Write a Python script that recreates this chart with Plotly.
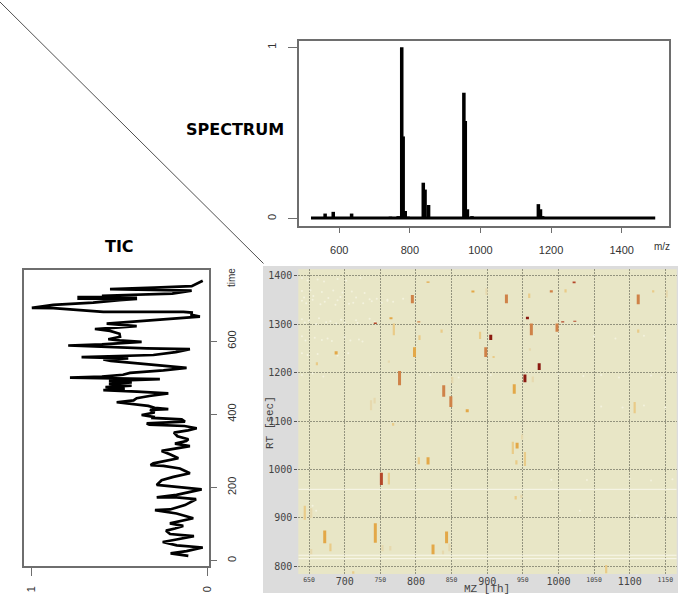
import plotly.graph_objects as go

W, H = 685, 601

# ---------- data ----------
spec_mz = [560, 583, 635, 654, 745, 767, 777, 781, 787, 795, 838, 843, 853, 865, 953, 957, 963, 976, 989, 1090, 1164, 1170, 1176]
spec_int = [.03, .04, .03, .007, .012, .015, 1.0, .48, .045, .012, .21, .17, .08, .01, .735, .57, .055, .015, .008, .006, .085, .055, .015]
spec_base_mz = [520, 1495]
spec_base_int = [.004, .004]
spec_ticks = [600, 800, 1000, 1200, 1400]

tic_time = [13, 20, 26, 36, 42, 51, 58, 67, 73, 82, 88, 95, 102, 116, 129, 138, 140, 152, 168, 173, 173, 180, 195, 200, 207, 220, 229, 239, 252, 259, 261, 266,
            280, 290, 300, 313, 320, 327, 332, 340, 350, 356, 362, 368, 372, 375, 380, 386, 390, 393, 398, 405, 412, 414, 418, 423, 428, 433, 438, 444, 450, 457,
            462, 466, 470, 474, 478, 483, 487, 491, 496, 500, 503, 508, 513, 520, 527, 535, 541, 546, 550, 553, 556, 562, 570, 578, 580, 584, 588, 591, 595, 598,
            602, 605, 612, 620, 628, 633, 641, 648, 653, 660, 667, 672, 678, 680, 680, 690, 691, 699, 705, 712, 715, 716, 718, 720, 722, 724, 726, 730, 738, 742, 746, 750, 765]
tic_value = [.108, .209, .118, .026, .174, .254, .175, .076, .212, .235, .184, .137, .213, .080, .175, .298, .212, .127, .064, .175, .288, .175, .032, .156, .288, .260, .193, .099, .156, .25, .323, .307,
             .165, .21, .26, .099, .184, .12, .108, .17, .19, .11, .06, .13, .33, .345, .127, .146, .31, .307, .374, .30, .326, .222, .30, .336, .42, .516, .42, .402, .33, .222,
             .40, .592, .47, .58, .431, .56, .43, .56, .27, .782, .60, .48, .44, .25, .118, .30, .45, .55, .592, .45, .716, .307, .18, .099, .345, .60, .792, .60, .50, .374,
             .50, .564, .497, .50, .554, .64, .402, .573, .421, .20, .042, .09, .089, .136, .592, .877, .999, .877, .65, .50, .40, .74, .40, .74, .42, .60, .40, .20, .089, .554, .30, .089, .026]
tic_time_ticks = [0, 200, 400, 600]
tic_value_ticks = [0, 1]

rt_ticks = [800, 900, 1000, 1100, 1200, 1300, 1400]
mz_major = [700, 800, 900, 1000, 1100]
mz_minor = [650, 750, 850, 950, 1050, 1150]

spot_mz = [795, 927, 1112, 959, 956.5, 962, 998, 1006, 1023, 905, 890, 898, 798, 769, 688, 805, 836, 743, 765, 804,
           973, 953, 777, 839, 849, 938, 872, 1107, 1112, 880, 990, 1022, 1010, 817, 1133, 1152, 899, 737, 742, 851, 964, 909, 960, 762, 661, 768,
           751.5, 762, 644, 653, 672, 680, 653, 743, 753, 764, 804, 817, 824, 843, 838, 847, 936, 942, 941, 953, 949, 940, 948, 1067, 712]
spot_rt_lo = [1343, 1343, 1341, 1354, 1310, 1277, 1284, 1303, 1305, 1267, 1269, 1232, 1232, 1277, 1237, 1267, 1282, 1300, 1310, 1303,
              1205, 1180, 1174, 1150, 1129, 1156, 1118, 1116, 1282, 1365, 1365, 1384, 1365, 1385, 1365, 1355, 1360, 1122, 1136, 1178, 1180, 1230, 1245, 1220, 1215, 1090,
              968, 969, 896, 900, 848, 831, 825, 849, 831, 833, 1011, 1010, 825, 848, 825, 831, 1032, 1043, 1010, 1007, 1062, 938, 941, 786, 785]
spot_rt_hi = [1360, 1361, 1361, 1363, 1315, 1301, 1301, 1306, 1307, 1278, 1284, 1252, 1252, 1301, 1244, 1277, 1289, 1303, 1314, 1306,
              1219, 1196, 1203, 1174, 1151, 1176, 1124, 1139, 1289, 1369, 1370, 1388, 1372, 1388, 1370, 1370, 1374, 1143, 1148, 1191, 1192, 1234, 1250, 1225, 1221, 1096,
              993, 993, 925, 920, 874, 847, 836, 889, 844, 842, 1025, 1025, 845, 872, 833, 847, 1057, 1055, 1019, 1036, 1072, 945, 948, 803, 790]
spot_level = [4, 4, 4, 2, 6, 4, 4, 5, 5, 6, 2, 4, 3, 2, 3, 2, 2, 5, 3, 4,
              6, 6, 4, 4, 4, 3, 3, 2, 2, 3, 4, 5, 2, 3, 2, 1, 1, 1, 1, 1, 1, 2, 1, 1, 2, 2,
              5, 2, 2, 1, 3, 2, 1, 3, 1, 1, 2, 3, 3, 3, 1, 1, 2, 3, 2, 2, 1, 2, 1, 2, 2]
level_colors = {1: "#e6d9ae", 2: "#e9cb88", 3: "#e3a848", 4: "#cf8248", 5: "#b4472a", 6: "#8a1a10"}

white_rt = [959, 823, 816]
speck_mz = [640, 648, 662, 671, 690, 702, 722, 640, 652, 668, 684, 697, 710, 728, 745, 760, 782, 640, 655, 672, 690, 712, 735, 760, 640, 650, 664, 680, 695, 716, 735,
            640, 658, 676, 700, 720, 640, 648, 662, 690, 705, 640, 655, 670, 820, 860, 905, 1000, 1035, 1060, 1085, 1130, 1145, 1060, 1090, 1120, 1150, 990, 1040, 1100, 1130, 1160, 1030, 1110, 1145, 655, 660, 1000, 1050, 1080, 1120, 1150,
            643, 646, 656, 666, 677, 687, 694, 706, 716, 726, 738, 752, 768, 644, 660, 674, 688, 700, 718, 742, 645, 668, 682, 708, 725]
speck_rt = [1395, 1390, 1392, 1388, 1393, 1390, 1395, 1368, 1370, 1366, 1369, 1365, 1367, 1364, 1352, 1350, 1352, 1348, 1350, 1346, 1349, 1344, 1351, 1348, 1310, 1307, 1312, 1306, 1309, 1308, 1311,
            1275, 1272, 1270, 1273, 1268, 1240, 1236, 1238, 1235, 1240, 1195, 1198, 1192, 1195, 1190, 1195, 1197, 1193, 1195, 1190, 1194, 1190, 1130, 1128, 1132, 1128, 979, 978, 981, 977, 980, 915, 905, 900, 925, 915, 1280, 1275, 1270, 1276, 1272,
            1355, 1343, 1358, 1341, 1354, 1340, 1356, 1342, 1355, 1343, 1347, 1344, 1346, 1303, 1300, 1304, 1301, 1303, 1302, 1305, 1266, 1267, 1265, 1266, 1264]

# ---------- helpers for panel rectangles given in image pixels ----------
def dx(a, b):
    return [a / W, b / W]

def dy(top, bottom):
    return [1 - bottom / H, 1 - top / H]

fig = go.Figure()
mono = "DejaVu Sans Mono"
sans = "Liberation Sans"
frame = "#6e6e6e"
tick_font = dict(family=sans, size=11, color="#333333")

# Spectrum
fig.add_trace(go.Scatter(x=spec_base_mz, y=spec_base_int, mode="lines", line=dict(color="black", width=3), xaxis="x", yaxis="y", hoverinfo="skip"))
fig.add_trace(go.Bar(x=spec_mz, y=spec_int, width=10, marker=dict(color="black", line_width=0), xaxis="x", yaxis="y"))

# TIC
fig.add_trace(go.Scatter(x=tic_value, y=tic_time, mode="lines", line=dict(color="black", width=2.7), xaxis="x2", yaxis="y2"))

# Map: white streaks and speckles, then the spots
for r in white_rt:
    fig.add_trace(go.Scatter(x=[635, 1166], y=[r, r], mode="lines", line=dict(color="#f8f7ea", width=1), xaxis="x3", yaxis="y3", hoverinfo="skip"))
fig.add_trace(go.Scatter(x=speck_mz, y=speck_rt, mode="markers", marker=dict(color="#f3f2de", size=2, line_width=0), xaxis="x3", yaxis="y3", hoverinfo="skip"))
for m, lo, hi, lv in zip(spot_mz, spot_rt_lo, spot_rt_hi, spot_level):
    fig.add_trace(go.Scatter(x=[m, m], y=[lo, hi], mode="lines", line=dict(color=level_colors[lv], width=3 if lv > 2 else 2.2),
                             xaxis="x3", yaxis="y3", hoverinfo="skip"))
# Invisible trace so the overlaid minor axis is drawn
fig.add_trace(go.Scatter(x=mz_minor, y=[800] * len(mz_minor), mode="markers", marker=dict(opacity=0), xaxis="x4", yaxis="y3", hoverinfo="skip"))

grid = dict(showgrid=True, gridcolor="#93937e", griddash="2px,1px", gridwidth=1)
base = dict(automargin=False, zeroline=False)
framed = dict(base, showgrid=False, showline=True, linecolor=frame, linewidth=1.5, mirror=True, ticks="outside", tickcolor=frame, tickfont=tick_font)
map_font = dict(family=mono, size=10, color="#444444")

fig.update_layout(
    width=W, height=H, autosize=False, margin=dict(l=0, r=0, t=0, b=0),
    paper_bgcolor="white", showlegend=False, barmode="overlay",
    plot_bgcolor="white",
    xaxis=dict(domain=dx(299, 669), range=[486, 1534], tickvals=spec_ticks, ticklen=5, tickangle=0, ticklabelstandoff=8, anchor="y", **framed),
    yaxis=dict(domain=dy(41, 226), range=[-0.0426, 1.0368], tickvals=[0, 1], ticklen=9, tickangle=-90, ticklabelstandoff=8, anchor="x", **framed),
    xaxis2=dict(domain=dx(24.3, 209.3), range=[1.042, -0.0114], tickvals=tic_value_ticks, ticklen=8, tickangle=-90, ticklabelstandoff=6, anchor="y2", **framed),
    yaxis2=dict(domain=dy(270, 566), range=[-14.5, 794.3], tickvals=tic_time_ticks, ticklen=6, tickangle=-90, side="right", ticklabelstandoff=6, anchor="x2", **framed),
    xaxis3=dict(domain=dx(298.3, 676.7), range=[634.9, 1166], tickvals=mz_major, ticks="", showline=False, tickfont=map_font, tickangle=0, anchor="y3", **base, **grid),
    xaxis4=dict(domain=dx(298.3, 676.7), range=[634.9, 1166], tickvals=mz_minor, ticks="", showline=False, tickfont=dict(family=mono, size=6.5, color="#444444"),
                tickangle=0, anchor="y3", overlaying="x3", side="bottom", **base, **grid),
    yaxis3=dict(domain=dy(269.3, 574), range=[784.3, 1413], tickvals=rt_ticks, ticks="outside", ticklen=3, tickcolor="#555555", showline=False, tickfont=map_font, anchor="x3", **base, **grid),
    shapes=[
        dict(type="rect", xref="paper", yref="paper", x0=263 / W, x1=678 / W, y0=1 - 593 / H, y1=1 - 266 / H,
             fillcolor="#dcdcdc", line_width=0, layer="below"),
        dict(type="rect", xref="paper", yref="paper", x0=298.3 / W, x1=676.7 / W, y0=1 - 574 / H, y1=1 - 269.3 / H,
             fillcolor="#e8e6c6", line_width=0, layer="below"),
        dict(type="line", xref="paper", yref="paper", x0=0, x1=263.5 / W, y0=1 - 2 / H, y1=1 - 263.5 / H,
             line=dict(color="#222222", width=0.8)),
    ],
)

notes = [
    ("SPECTRUM", 235, 129, 0, dict(family="DejaVu Sans", size=16, color="black", weight="bold")),
    ("TIC", 119, 246.5, 0, dict(family="DejaVu Sans", size=16, color="black", weight="bold")),
    ("m/z", 662, 246, 0, dict(family=sans, size=10, color="#333333")),
    ("time", 231, 278, -90, dict(family=sans, size=10, color="#333333")),
    ("MZ [Th]", 487, 589, 0, dict(family="Liberation Mono", size=11, color="#444444")),
    ("RT [sec]", 270, 423, -90, dict(family="Liberation Mono", size=11, color="#444444")),
]
for text, px, py, angle, font in notes:
    fig.add_annotation(text=text, xref="paper", yref="paper", x=px / W, y=1 - py / H, xanchor="center", yanchor="middle",
                       showarrow=False, textangle=angle, font=font)

fig.write_html("out.html", config=dict(displayModeBar=False), post_script="document.body.style.margin='0';document.body.style.overflow='hidden';")
